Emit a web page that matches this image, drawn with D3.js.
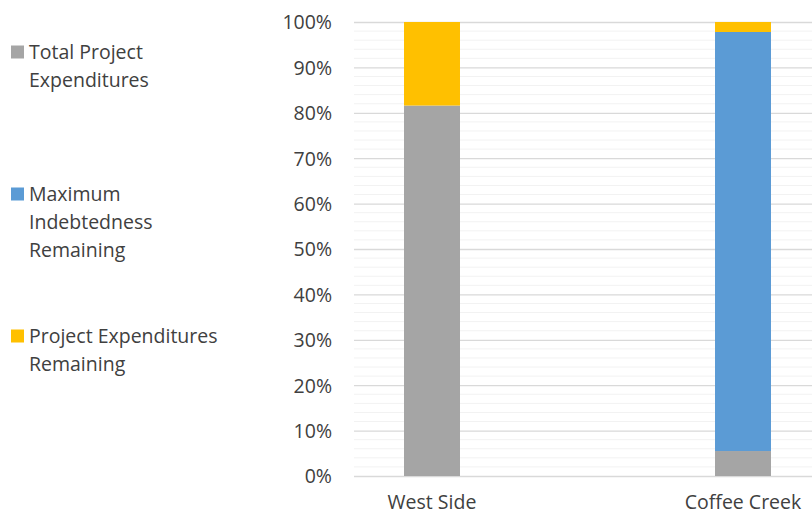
<!DOCTYPE html>
<html>
<head>
<meta charset="utf-8">
<script src="https://cdn.jsdelivr.net/npm/d3@7"></script>
<style>
  html, body { margin: 0; padding: 0; background: #fff; }
  text { font-family: "Open Sans", Lato, sans-serif; fill: #404040; }
</style>
</head>
<body>
<svg id="chart" width="812" height="514"></svg>
<script>
const categories = ["West Side", "Coffee Creek"];
const seriesNames = ["Total Project Expenditures", "Maximum Indebtedness Remaining", "Project Expenditures Remaining"];
const totalProjectExpenditures = [81.6, 5.5];
const maximumIndebtednessRemaining = [0, 92.3];
const projectExpendituresRemaining = [18.4, 2.2];
const tickLabels = ["0%", "10%", "20%", "30%", "40%", "50%", "60%", "70%", "80%", "90%", "100%"];
const colors = ["#A5A5A5", "#5B9BD5", "#FFC000"];
const legendLines = [["Total Project", "Expenditures"], ["Maximum", "Indebtedness", "Remaining"], ["Project Expenditures", "Remaining"]];

const svg = d3.select("#chart");
const plotLeft = 354, plotRight = 812, plotTop = 22, plotBottom = 476;
const fontSize = 19.5;

const y = d3.scaleLinear().domain([0, 100]).range([plotBottom, plotTop]);
const x = d3.scaleBand().domain(categories).range([276.5, 898.5]).paddingInner(0.82).paddingOuter(0.41);

// minor gridlines
const minor = d3.range(0, 101, 2).filter(v => v % 10 !== 0);
svg.append("g").selectAll("line").data(minor).join("line")
  .attr("x1", plotLeft).attr("x2", plotRight)
  .attr("y1", d => y(d)).attr("y2", d => y(d))
  .attr("stroke", "#F2F2F2").attr("stroke-width", 1);

// major gridlines via axis
const yAxis = d3.axisLeft(y).tickValues(d3.range(0, 101, 10))
  .tickFormat((d, i) => tickLabels[i]).tickSize(-(plotRight - plotLeft)).tickPadding(22);
const gy = svg.append("g").attr("transform", `translate(${plotLeft},0)`).call(yAxis);
gy.select(".domain").remove();
gy.selectAll(".tick line").attr("stroke", "#D9D9D9").attr("stroke-width", 1.3);
gy.selectAll(".tick text").attr("font-size", fontSize).attr("fill", "#404040").attr("dy", "0.35em")
  .style("font-family", "'Open Sans', Lato, sans-serif");

// stack
const rows = categories.map((c, i) => ({
  cat: c,
  [seriesNames[0]]: totalProjectExpenditures[i],
  [seriesNames[1]]: maximumIndebtednessRemaining[i],
  [seriesNames[2]]: projectExpendituresRemaining[i]
}));
const stacked = d3.stack().keys(seriesNames)(rows);

svg.append("g").selectAll("g").data(stacked).join("g")
  .attr("fill", (d, i) => colors[i])
  .selectAll("rect").data(d => d).join("rect")
  .attr("x", d => x(d.data.cat))
  .attr("width", x.bandwidth())
  .attr("y", d => y(d[1]))
  .attr("height", d => y(d[0]) - y(d[1]));

// x axis labels
svg.append("g").selectAll("text").data(categories).join("text")
  .attr("x", d => x(d) + x.bandwidth() / 2)
  .attr("y", 509)
  .attr("text-anchor", "middle")
  .attr("font-size", fontSize)
  .text(d => d);

// legend
const legendTops = [52, 194, 336];
const lg = svg.append("g");
legendLines.forEach((lines, i) => {
  lg.append("rect").attr("x", 11).attr("y", legendTops[i] - 6.5).attr("width", 13).attr("height", 13).attr("fill", colors[i]);
  lines.forEach((t, j) => {
    lg.append("text").attr("x", 29).attr("y", legendTops[i] + j * 28).attr("dy", "0.35em")
      .attr("font-size", fontSize).text(t);
  });
});
</script>
</body>
</html>
